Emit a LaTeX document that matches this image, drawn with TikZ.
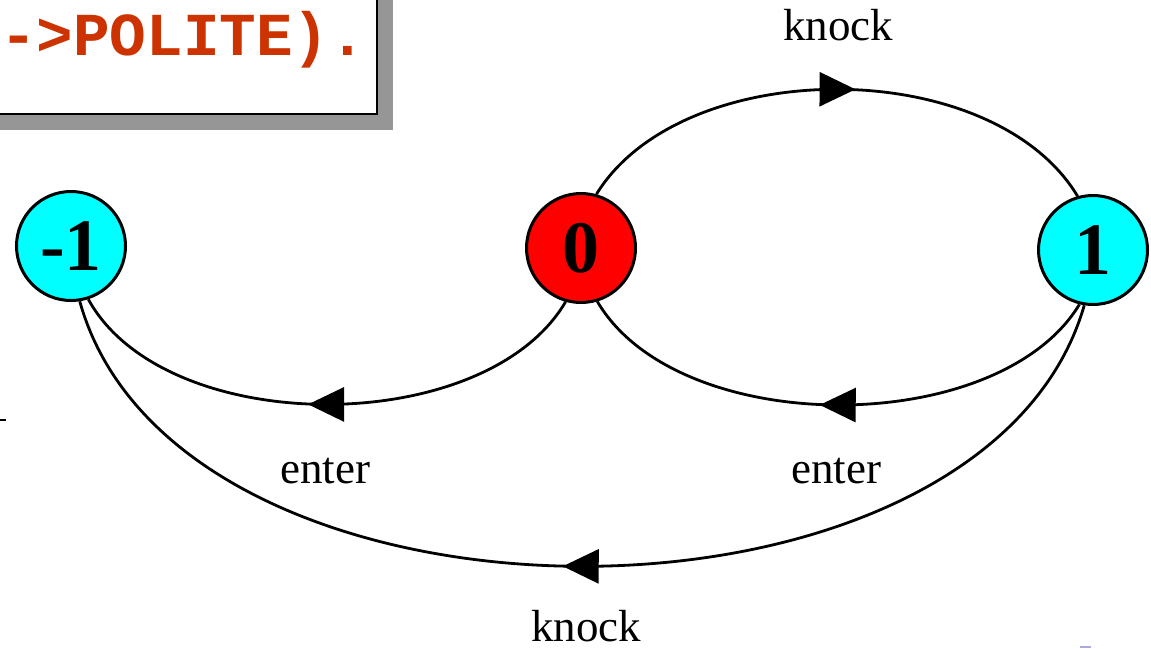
\documentclass[tikz,border=0pt]{standalone}
\usepackage{fontspec}
\setmainfont{Liberation Serif}
\newfontfamily\monob{Liberation Mono}
\usetikzlibrary{arrows.meta,decorations.markings}
\definecolor{codered}{RGB}{204,51,0}
\definecolor{shadowgray}{RGB}{150,150,150}
\definecolor{faintblue}{RGB}{170,170,225}
\definecolor{statecyan}{RGB}{0,255,255}
\definecolor{statered}{RGB}{255,0,0}
\begin{document}
\begin{tikzpicture}[x=1pt,y=-1pt,
  state/.style={circle,draw=black,line width=3pt,minimum size=109pt,inner sep=0pt,
    font=\fontsize{74}{74}\selectfont\bfseries},
  trans/.style={line width=2.8pt,postaction={decorate},
    decoration={markings,mark=at position 0.5 with {\arrow[xshift=18pt]{Triangle[length=36pt,width=34pt]}}}},
  lbl/.style={font=\fontsize{45}{45}\selectfont,anchor=base,inner sep=0pt}]
\useasboundingbox (0,0) rectangle (1151,648);
% code box
\fill[shadowgray] (-10,-10) rectangle (393,130);
\draw[fill=white,line width=2.5pt] (-10,-10) rectangle (377,114);
\node[anchor=base west,text=codered,inner sep=0pt,
  font=\monob\bfseries\fontsize{61}{61}\selectfont] (code) at (0,55) {->POLITE).};
% states
\node[state,fill=statecyan] (nm) at (71,246) {-1};
\node[state,fill=statered] (n0) at (581,248) {0};
\node[state,fill=statecyan] (n1) at (1093,250) {1};
% transitions
\draw[trans] (n0.74) .. controls (683,54) and (992,54) .. (n1.106);
\draw[trans] (n1.-104) .. controls (998,439) and (678,439) .. (n0.-73);
\draw[trans] (n0.-106) .. controls (485,439) and (165,439) .. (nm.-72);
\draw[trans] (n1.-99) .. controls (984,654) and (178,654) .. (nm.-81);
% labels
\node[lbl] (l1) at (838,40) {knock};
\node[lbl] (l2) at (836,483) {enter};
\node[lbl] (l3) at (325,483) {enter};
\node[lbl] (l4) at (586,641) {knock};
% stray marks
\draw[line width=2pt] (0,420) -- (6,420);
\draw[faintblue,line width=1.5pt] (1080,647) -- (1091,647);
\end{tikzpicture}
\end{document}
